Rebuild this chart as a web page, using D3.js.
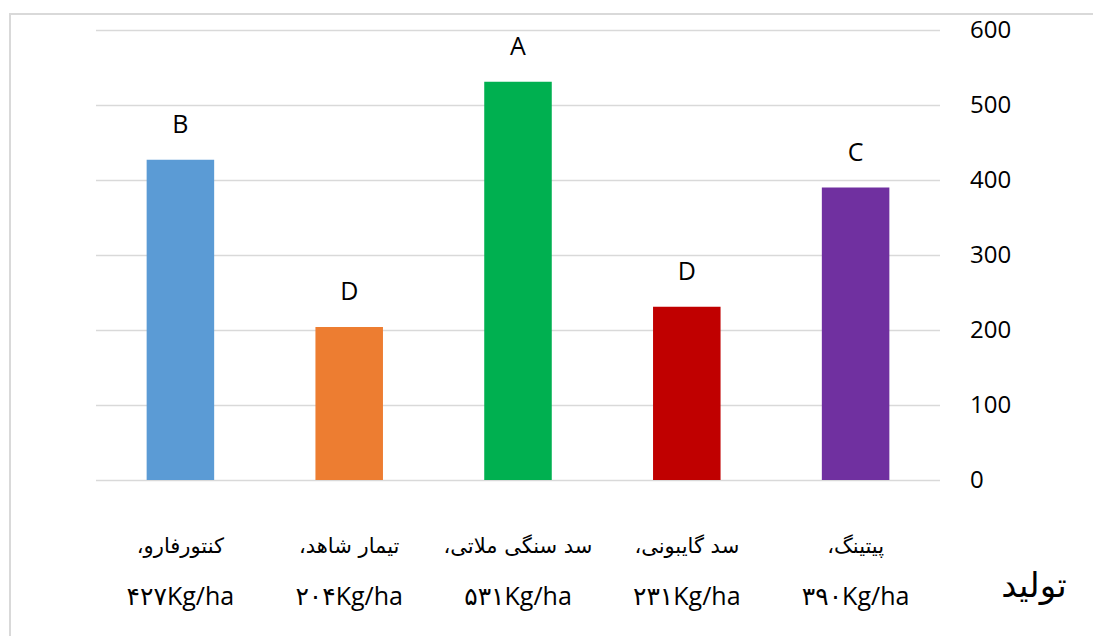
<!DOCTYPE html>
<html>
<head>
<meta charset="utf-8">
<script src="https://cdn.jsdelivr.net/npm/d3@7.9.0/dist/d3.min.js"></script>
<style>
  body { margin: 0; background: #fff; overflow: hidden; }
  text { font-family: "Open Sans", "DejaVu Sans", sans-serif; fill: #000; }
  .fa { font-family: "DejaVu Sans", "Noto Sans", sans-serif; }
</style>
</head>
<body>
<svg id="chart" width="1093" height="636"></svg>
<script>
const names   = ['کنتورفارو،', 'تیمار شاهد،', 'سد سنگی ملاتی،', 'سد گایبونی،', 'پیتینگ،'];
const yields  = ['۴۲۷Kg/ha', '۲۰۴Kg/ha', '۵۳۱Kg/ha', '۲۳۱Kg/ha', '۳۹۰Kg/ha'];
const values  = [427, 204, 531, 231, 390];
const letters = ['B', 'D', 'A', 'D', 'C'];
const colors  = ['#5B9BD5', '#ED7D31', '#00B050', '#C00000', '#7030A0'];
const yTicks  = [0, 100, 200, 300, 400, 500, 600];
const yTitle  = 'تولید';

const W = 1093, H = 636;
const M = {t: 30, r: 153, b: 156, l: 96};
const svg = d3.select('#chart');

// chart area border (runs off the right and bottom edges)
svg.append('rect')
  .attr('x', 10).attr('y', 14)
  .attr('width', W + 20).attr('height', H + 20)
  .attr('fill', 'none').attr('stroke', '#D9D9D9').attr('stroke-width', 2);

const x = d3.scaleBand()
  .domain(d3.range(values.length))
  .range([M.l, W - M.r])
  .paddingInner(0.6).paddingOuter(0.3);

const y = d3.scaleLinear()
  .domain([0, 600])
  .range([H - M.b, M.t]);

// gridlines
svg.append('g')
  .attr('transform', `translate(${M.l},0)`)
  .call(d3.axisLeft(y).tickValues(yTicks).tickSize(-(W - M.r - M.l)).tickFormat(''))
  .call(g => g.select('.domain').remove())
  .call(g => g.selectAll('line').attr('stroke', '#D9D9D9').attr('stroke-width', 1.5));

// y tick labels on the right
svg.append('g')
  .attr('transform', `translate(${W - M.r},0)`)
  .call(d3.axisRight(y).tickValues(yTicks).tickSize(0).tickPadding(30))
  .call(g => g.select('.domain').remove())
  .call(g => g.selectAll('text').style('font-size', '24px').attr('fill', '#000'));

// bars
svg.append('g').selectAll('rect')
  .data(values)
  .join('rect')
    .attr('x', (d, i) => x(i))
    .attr('y', d => y(d))
    .attr('width', x.bandwidth())
    .attr('height', d => y(0) - y(d))
    .attr('fill', (d, i) => colors[i]);

// significance letters
svg.append('g').selectAll('text')
  .data(values)
  .join('text')
    .attr('x', (d, i) => x(i) + x.bandwidth() / 2)
    .attr('y', d => y(d) - 27)
    .attr('text-anchor', 'middle')
    .style('font-size', '25px')
    .text((d, i) => letters[i]);

// category labels, two lines
const cat = svg.append('g').selectAll('g')
  .data(values)
  .join('g')
    .attr('transform', (d, i) => `translate(${x(i) + x.bandwidth() / 2},0)`);

cat.append('text')
  .attr('class', 'fa')
  .attr('y', y(0) + 73)
  .attr('text-anchor', 'middle')
  .attr('direction', 'rtl')
  .style('font-size', '21px')
  .text((d, i) => names[i]);

cat.append('text')
  .attr('y', y(0) + 125)
  .attr('text-anchor', 'middle')
  .style('font-size', '25px')
  .text((d, i) => yields[i]);

// axis title
svg.append('text')
  .attr('class', 'fa')
  .attr('x', 1034)
  .attr('y', 597)
  .attr('text-anchor', 'middle')
  .attr('direction', 'rtl')
  .style('font-size', '34px')
  .text(yTitle);
</script>
</body>
</html>
